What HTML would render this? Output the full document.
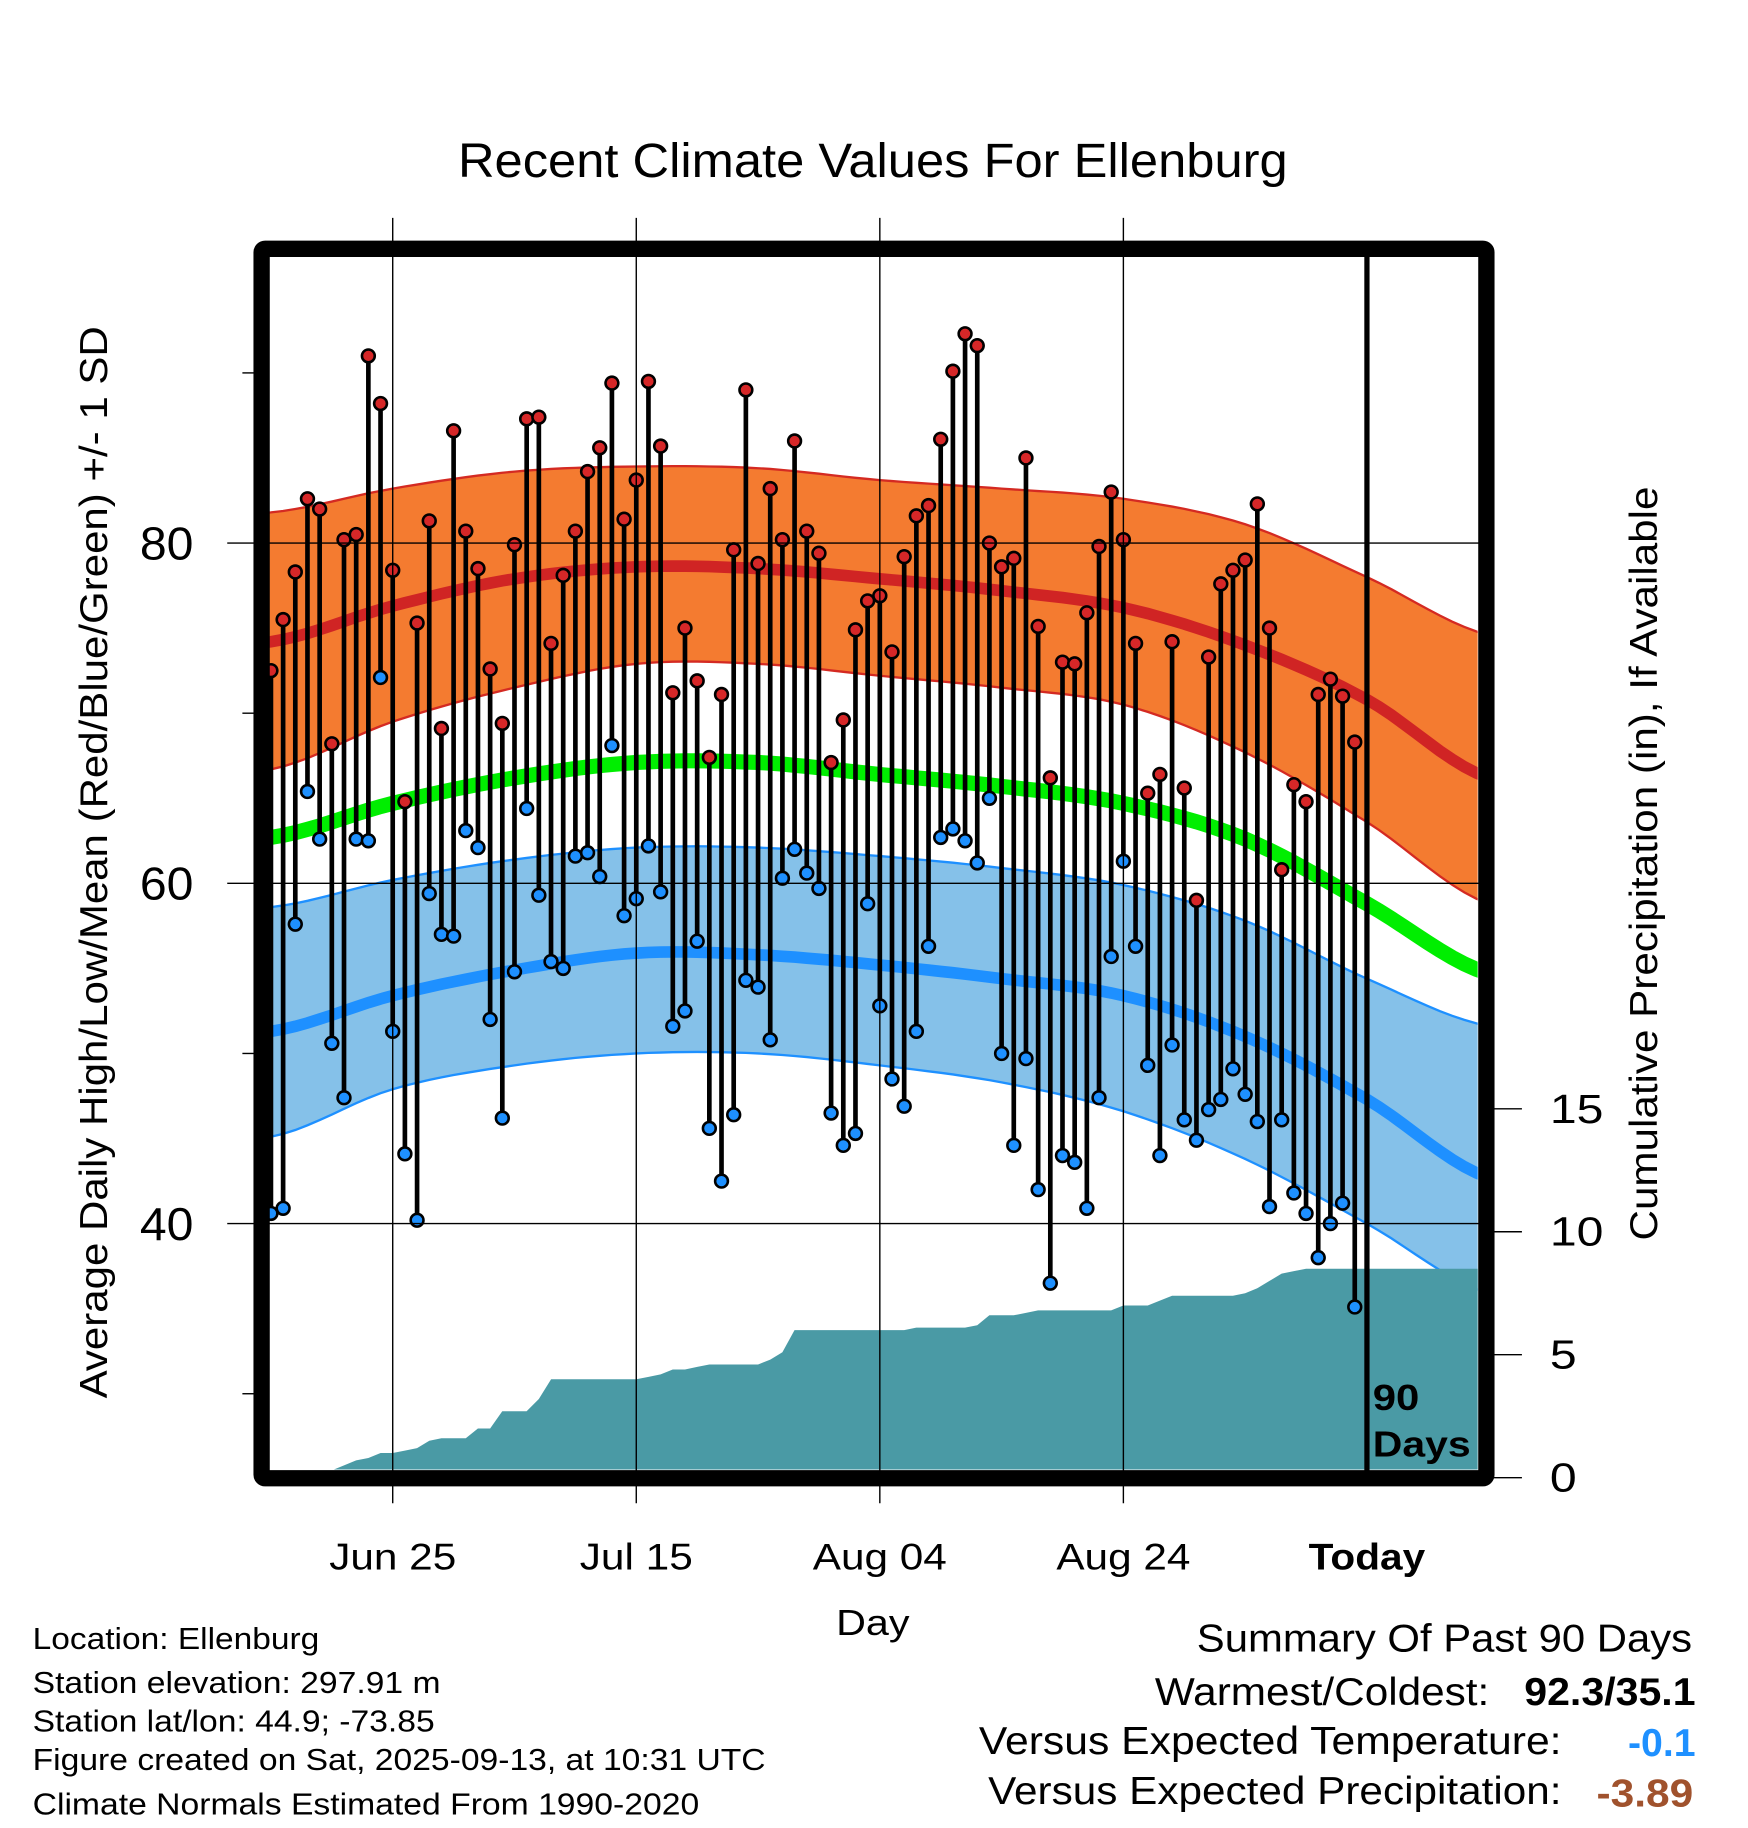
<!DOCTYPE html>
<html><head><meta charset="utf-8"><style>
html,body{margin:0;padding:0;background:#fff}
svg{display:block}
text{font-family:"Liberation Sans",sans-serif}
</style></head><body>
<svg id="chart" width="1748" height="1828" viewBox="0 0 1500 1568.65" xmlns="http://www.w3.org/2000/svg">
<defs><clipPath id="plotclip"><rect x="231" y="220" width="1037" height="1041"/></clipPath></defs>
<text x="749" y="152" font-size="41" text-anchor="middle" textLength="712" lengthAdjust="spacingAndGlyphs">Recent Climate Values For Ellenburg</text>
<g id="plot" clip-path="url(#plotclip)"></g>
<g id="axes"></g>
<text transform="translate(92,740) rotate(-90)" font-size="33" text-anchor="middle" textLength="920" lengthAdjust="spacingAndGlyphs">Average Daily High/Low/Mean (Red/Blue/Green) +/- 1 SD</text>
<text transform="translate(1422,741) rotate(-90)" font-size="33" text-anchor="middle" textLength="647" lengthAdjust="spacingAndGlyphs">Cumulative Precipitation (in), If Available</text>
<text x="749" y="1403" font-size="31" text-anchor="middle" textLength="63" lengthAdjust="spacingAndGlyphs">Day</text>
<text x="1178" y="1210" font-size="31" font-weight="bold" textLength="40" lengthAdjust="spacingAndGlyphs">90</text>
<text x="1178" y="1250" font-size="31" font-weight="bold" textLength="84" lengthAdjust="spacingAndGlyphs">Days</text>
<g font-size="26">
<text x="28" y="1415" textLength="246" lengthAdjust="spacingAndGlyphs">Location: Ellenburg</text>
<text x="28" y="1453" textLength="350" lengthAdjust="spacingAndGlyphs">Station elevation: 297.91 m</text>
<text x="28" y="1486" textLength="345" lengthAdjust="spacingAndGlyphs">Station lat/lon: 44.9; -73.85</text>
<text x="28" y="1519" textLength="629" lengthAdjust="spacingAndGlyphs">Figure created on Sat, 2025-09-13, at 10:31 UTC</text>
<text x="28" y="1557" textLength="572" lengthAdjust="spacingAndGlyphs">Climate Normals Estimated From 1990-2020</text>
</g>
<g font-size="33">
<text x="1452" y="1417" text-anchor="end" textLength="425" lengthAdjust="spacingAndGlyphs">Summary Of Past 90 Days</text>
<text x="1278" y="1463" text-anchor="end" textLength="287" lengthAdjust="spacingAndGlyphs">Warmest/Coldest:</text>
<text x="1455" y="1463" text-anchor="end" font-weight="bold" textLength="147" lengthAdjust="spacingAndGlyphs">92.3/35.1</text>
<text x="1340" y="1505" text-anchor="end" textLength="500" lengthAdjust="spacingAndGlyphs">Versus Expected Temperature:</text>
<text x="1455" y="1507" text-anchor="end" font-weight="bold" fill="#1e90ff" textLength="58" lengthAdjust="spacingAndGlyphs">-0.1</text>
<text x="1340" y="1548" text-anchor="end" textLength="492" lengthAdjust="spacingAndGlyphs">Versus Expected Precipitation:</text>
<text x="1453" y="1550" text-anchor="end" font-weight="bold" fill="#a0522d" textLength="83" lengthAdjust="spacingAndGlyphs">-3.89</text>
</g>
</svg>
<script>
const highs=[72.5,75.5,78.3,82.6,82.0,68.2,80.2,80.5,91.0,88.2,78.4,64.8,75.3,81.3,69.1,86.6,80.7,78.5,72.6,69.4,79.9,87.3,87.4,74.1,78.1,80.7,84.2,85.6,89.4,81.4,83.7,89.5,85.7,71.2,75.0,71.9,67.4,71.1,79.6,89.0,78.8,83.2,80.2,86.0,80.7,79.4,67.1,69.6,74.9,76.6,76.9,73.6,79.2,81.6,82.2,86.1,90.1,92.3,91.6,80.0,78.6,79.1,85.0,75.1,66.2,73.0,72.9,75.9,79.8,83.0,80.2,74.1,65.3,66.4,74.2,65.6,59.0,73.3,77.6,78.4,79.0,82.3,75.0,60.8,65.8,64.8,71.1,72.0,71.0,68.3];
const lows=[40.6,40.9,57.6,65.4,62.6,50.6,47.4,62.6,62.5,72.1,51.3,44.1,40.2,59.4,57.0,56.9,63.1,62.1,52.0,46.2,54.8,64.4,59.3,55.4,55.0,61.6,61.8,60.4,68.1,58.1,59.1,62.2,59.5,51.6,52.5,56.6,45.6,42.5,46.4,54.3,53.9,50.8,60.3,62.0,60.6,59.7,46.5,44.6,45.3,58.8,52.8,48.5,46.9,51.3,56.3,62.7,63.2,62.5,61.2,65.0,50.0,44.6,49.7,42.0,36.5,44.0,43.6,40.9,47.4,55.7,61.3,56.3,49.3,44.0,50.5,46.1,44.9,46.7,47.3,49.1,47.6,46.0,41.0,46.1,41.8,40.6,38.0,40.0,41.2,35.1];
const precip=[0,0,0,0,0,0.3,0.5,0.7,0.8,1.0,1.0,1.1,1.2,1.5,1.6,1.6,1.6,2.0,2.0,2.7,2.7,2.7,3.2,4.0,4.0,4.0,4.0,4.0,4.0,4.0,4.0,4.1,4.2,4.4,4.4,4.5,4.6,4.6,4.6,4.6,4.6,4.8,5.1,6.0,6.0,6.0,6.0,6.0,6.0,6.0,6.0,6.0,6.0,6.1,6.1,6.1,6.1,6.1,6.2,6.6,6.6,6.6,6.7,6.8,6.8,6.8,6.8,6.8,6.8,6.8,7.0,7.0,7.0,7.2,7.4,7.4,7.4,7.4,7.4,7.4,7.5,7.7,8.0,8.3,8.4,8.5,8.5,8.5,8.5,8.5];
const normDays=[0,10,20,30,40,50,60,70,80,90,100];
const highUpper=[81.8,83.2,84.2,84.5,84.4,83.7,83.2,82.6,81.1,78.0,74.6];
const highMean=[74.2,76.3,77.9,78.6,78.5,77.9,77.2,76.2,74.0,70.8,66.2];
const highLower=[66.7,69.5,71.5,72.9,72.9,72.2,71.5,70.5,67.7,63.6,58.8];
const dailyMean=[62.7,64.7,66.2,67.1,67.1,66.4,65.7,64.7,62.6,58.8,54.7];
const lowUpper=[58.6,60.2,61.4,62.1,62.1,61.6,60.9,59.9,57.8,54.4,51.6];
const lowMean=[51.3,53.4,54.9,55.9,55.8,55.2,54.4,53.4,51.0,47.3,42.7];
const lowLower=[45.1,47.9,49.3,50.0,50.0,49.3,48.3,46.6,43.8,40.0,35.9];
const tempTicks=[40,60,80];
const tempMinor=[30,50,70,90];
const precipTicks=[0,5,10,15];
const dateLabels=["Jun 25","Jul 15","Aug 04","Aug 24","Today"];
const dateIdx=[10,30,50,70,90];
const dateLabelWidths=[109,97,115,115,100];

const NS="http://www.w3.org/2000/svg";
const X=i=>232.5+10.45*i;
const Y=t=>466+(80-t)*14.6;
const P=p=>1268-p*21.1;
function mk(tag,attrs,parent){const e=document.createElementNS(NS,tag);for(const k in attrs)e.setAttribute(k,attrs[k]);parent.appendChild(e);return e;}
const plot=document.getElementById('plot'),axes=document.getElementById('axes');
function interp(arr){const pts=[];for(let d=-2;d<=101;d+=1){let k=Math.min(Math.max(Math.floor(d/10),0),normDays.length-2);let t=(d-normDays[k])/10;
 const a=arr[Math.max(k-1,0)],b=arr[k],c=arr[k+1],e=arr[Math.min(k+2,arr.length-1)];
 const v=b+0.5*t*(c-a+t*(2*a-5*b+4*c-e+t*(3*(b-c)+e-a)));pts.push([X(d),Y(v)]);}return pts;}
const ps=p=>p.map(q=>q[0].toFixed(1)+','+q[1].toFixed(1)).join(' ');
function band(up,lo,fill,edge,name){const u=interp(up),l=interp(lo);
 const b=mk('polygon',{points:ps(u)+' '+ps(l.slice().reverse()),fill:fill},plot);
 
 
 const e1=mk('polyline',{points:ps(u),fill:'none',stroke:edge,'stroke-width':2},plot);
 
 
 const e2=mk('polyline',{points:ps(l),fill:'none',stroke:edge,'stroke-width':2},plot);
 
 }
function line(arr,col,w,name){const l=mk('polyline',{points:ps(interp(arr)),fill:'none',stroke:col,'stroke-width':w},plot);
 
 }
band(highUpper,highLower,'#f47b30','#d42a22','high-sd-band');
line(highMean,'#d02424',10,'normal-high-line');
band(lowUpper,lowLower,'#85c1e9','#1e90ff','low-sd-band');
line(lowMean,'#1e90ff',10,'normal-low-line');
line(dailyMean,'#00ee00',13,'normal-mean-line');
tempTicks.forEach(t=>{const g=mk('line',{x1:195,x2:1282,y1:Y(t),y2:Y(t),stroke:'#000','stroke-width':1.2},axes);
 
 
 const tx=mk('text',{x:166,y:Y(t)+14,'font-size':40,'text-anchor':'end',textLength:46,lengthAdjust:'spacingAndGlyphs'},axes);tx.textContent=t;
 
 });
tempMinor.forEach(t=>{const g=mk('line',{x1:208,x2:220,y1:Y(t),y2:Y(t),stroke:'#000','stroke-width':1.2},axes);
 
 });
dateIdx.forEach((d,k)=>{if(k<4){const g=mk('line',{x1:X(d),x2:X(d),y1:187,y2:1290,stroke:'#000','stroke-width':1.2},axes);
 
 }
 const tx=mk('text',{x:X(d),y:1347,'font-size':32,'text-anchor':'middle','font-weight':k==4?'bold':'normal',textLength:dateLabelWidths[k],lengthAdjust:'spacingAndGlyphs'},axes);tx.textContent=dateLabels[k];
 
 });
precipTicks.forEach(p=>{const g=mk('line',{x1:1282,x2:1306,y1:P(p),y2:P(p),stroke:'#000','stroke-width':1.2},axes);
 
 
 const tx=mk('text',{x:1330,y:P(p)+12,'font-size':35,textLength:String(p).length*23,lengthAdjust:'spacingAndGlyphs'},axes);tx.textContent=p;
 
 });
let pp=[[X(0),P(0)]];precip.forEach((v,i)=>pp.push([X(i),P(v)]));pp.push([1270,P(precip[precip.length-1])]);pp.push([1270,P(0)+5]);pp.push([X(0),P(0)+5]);
const pa=mk('polygon',{points:ps(pp),fill:'#4a9aa5'},plot);


const sg=mk('g',{},plot);
highs.forEach((h,i)=>{const s=mk('line',{x1:X(i),x2:X(i),y1:Y(h),y2:Y(lows[i]),stroke:'#000','stroke-width':4},sg);
 
 });
highs.forEach((h,i)=>{const c=mk('circle',{cx:X(i),cy:Y(h),r:5.5,fill:'#d62728',stroke:'#000','stroke-width':2.2},sg);
 
 
 const c2=mk('circle',{cx:X(i),cy:Y(lows[i]),r:5.5,fill:'#1e90ff',stroke:'#000','stroke-width':2.2},sg);
 
 });
const today=mk('line',{x1:X(90),x2:X(90),y1:215,y2:1265,stroke:'#000','stroke-width':4.5},axes);


const fr=mk('rect',{x:224.5,y:213.5,width:1051,height:1055,fill:'none',stroke:'#000','stroke-width':14,rx:3},axes);


</script>
</body></html>
